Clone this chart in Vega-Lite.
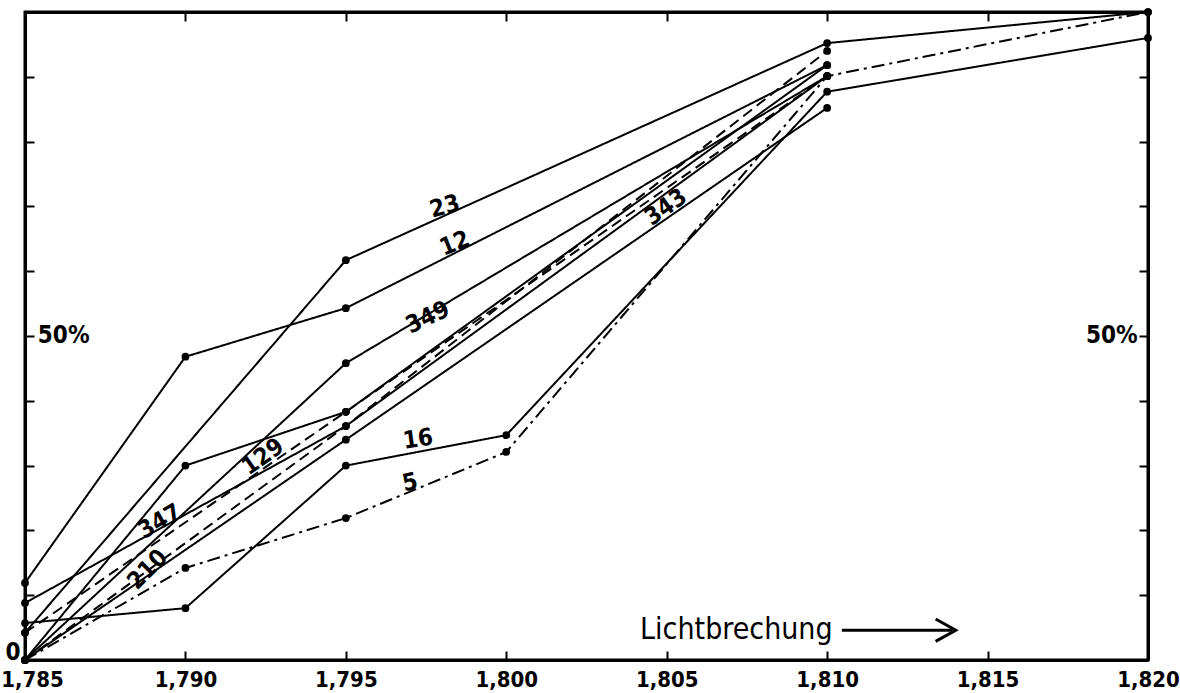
{
  "$schema": "https://vega.github.io/schema/vega-lite/v6.json",
  "width": 1123,
  "height": 648,
  "autosize": {"type": "none"},
  "padding": {"left": 25, "top": 12, "right": 32, "bottom": 33},
  "background": "white",
  "config": {
    "view": {"stroke": "black", "strokeWidth": 3},
    "font": "'DejaVu Sans Condensed', 'DejaVu Sans', sans-serif"
  },
  "datasets": {
    "pts": [
      {"s": "23", "style": "solid", "n": 1.785, "p": 4.2},
      {"s": "23", "style": "solid", "n": 1.795, "p": 61.7},
      {"s": "23", "style": "solid", "n": 1.810, "p": 95.2},
      {"s": "23", "style": "solid", "n": 1.820, "p": 100},
      {"s": "12", "style": "solid", "n": 1.785, "p": 11.9},
      {"s": "12", "style": "solid", "n": 1.790, "p": 46.8},
      {"s": "12", "style": "solid", "n": 1.795, "p": 54.3},
      {"s": "12", "style": "solid", "n": 1.810, "p": 91.8},
      {"s": "349", "style": "solid", "n": 1.785, "p": 0},
      {"s": "349", "style": "solid", "n": 1.795, "p": 45.8},
      {"s": "349", "style": "solid", "n": 1.810, "p": 90.1},
      {"s": "9", "style": "solid", "n": 1.785, "p": 0},
      {"s": "9", "style": "solid", "n": 1.790, "p": 30.0},
      {"s": "9", "style": "solid", "n": 1.795, "p": 38.3},
      {"s": "9", "style": "solid", "n": 1.810, "p": 91.8},
      {"s": "347", "style": "solid", "n": 1.785, "p": 8.8},
      {"s": "347", "style": "solid", "n": 1.795, "p": 36.1},
      {"s": "347", "style": "solid", "n": 1.810, "p": 90.1},
      {"s": "210", "style": "dashed", "n": 1.785, "p": 0},
      {"s": "210", "style": "dashed", "n": 1.795, "p": 36.1},
      {"s": "210", "style": "dashed", "n": 1.810, "p": 94.0},
      {"s": "129", "style": "dashed", "n": 1.785, "p": 4.2},
      {"s": "129", "style": "dashed", "n": 1.795, "p": 38.3},
      {"s": "129", "style": "dashed", "n": 1.810, "p": 90.1},
      {"s": "343", "style": "solid", "n": 1.785, "p": 0},
      {"s": "343", "style": "solid", "n": 1.795, "p": 34.0},
      {"s": "343", "style": "solid", "n": 1.810, "p": 85.2},
      {"s": "16", "style": "solid", "n": 1.785, "p": 5.7},
      {"s": "16", "style": "solid", "n": 1.790, "p": 8.0},
      {"s": "16", "style": "solid", "n": 1.795, "p": 30.0},
      {"s": "16", "style": "solid", "n": 1.800, "p": 34.7},
      {"s": "16", "style": "solid", "n": 1.810, "p": 87.7},
      {"s": "16", "style": "solid", "n": 1.820, "p": 96.0},
      {"s": "5", "style": "dashdot", "n": 1.785, "p": 0},
      {"s": "5", "style": "dashdot", "n": 1.790, "p": 14.2},
      {"s": "5", "style": "dashdot", "n": 1.795, "p": 21.9},
      {"s": "5", "style": "dashdot", "n": 1.800, "p": 32.1},
      {"s": "5", "style": "dashdot", "n": 1.810, "p": 90.1},
      {"s": "5", "style": "dashdot", "n": 1.820, "p": 100}
    ],
    "labels": [
      {"t": "23", "n": 1.79809, "p": 69.9, "a": -15},
      {"t": "12", "n": 1.7984, "p": 64.2, "a": -22},
      {"t": "349", "n": 1.79756, "p": 52.8, "a": -25},
      {"t": "9", "n": 1.78179, "p": 34.9, "a": -8},
      {"t": "129", "n": 1.79242, "p": 31.3, "a": -35},
      {"t": "347", "n": 1.78921, "p": 21.3, "a": -30},
      {"t": "210", "n": 1.78883, "p": 13.9, "a": -45},
      {"t": "16", "n": 1.79725, "p": 34.0, "a": -8},
      {"t": "5", "n": 1.797, "p": 27.3, "a": -12},
      {"t": "343", "n": 1.80498, "p": 69.8, "a": -35}
    ],
    "pctL": [
      {"t": "50%", "n": 1.7854, "p": 50}
    ],
    "pctR": [
      {"t": "50%", "n": 1.81968, "p": 50}
    ],
    "title": [
      {"t": "Lichtbrechung", "n": 1.80417, "p": 4.6}
    ],
    "arrow": [
      {"n0": 1.81046, "n1": 1.81390, "p": 4.6, "nh": 1.81366}
    ]
  },
  "resolve": {"axis": {"x": "independent", "y": "independent"}},
  "layer": [
    {
      "data": {"name": "pts"},
      "mark": {"type": "line", "color": "black", "strokeWidth": 2},
      "encoding": {
        "x": {
          "field": "n", "type": "quantitative",
          "scale": {"domain": [1.785, 1.82], "nice": false, "zero": false},
          "axis": {
            "orient": "bottom", "title": null, "grid": false,
            "values": [1.785, 1.79, 1.795, 1.8, 1.805, 1.81, 1.815, 1.82],
            "labelExpr": "replace(format(datum.value, '.3f'), '.', ',')",
            "tickSize": -9, "tickWidth": 2, "tickColor": "black",
            "domainColor": "black", "domainWidth": 3,
            "labelFontSize": 22, "labelFontWeight": "bold", "labelColor": "black",
            "labelPadding": 18, "labelFlush": false, "labelOverlap": false,
            "labelOffset": {"condition": {"test": "datum.value < 1.786", "value": 7}, "value": 0}
          }
        },
        "y": {
          "field": "p", "type": "quantitative",
          "scale": {"domain": [0, 100], "nice": false},
          "axis": {
            "orient": "left", "title": null, "grid": false,
            "values": [0, 10, 20, 30, 40, 50, 60, 70, 80, 90],
            "labelExpr": "datum.value == 0 ? '0' : ''",
            "tickSize": -9, "tickWidth": 2, "tickColor": "black",
            "domainColor": "black", "domainWidth": 3,
            "labelFontSize": 24, "labelFontWeight": "bold", "labelColor": "black",
            "labelPadding": 14, "labelBaseline": "alphabetic", "labelOffset": -1
          }
        },
        "detail": {"field": "s"},
        "strokeDash": {
          "field": "style", "type": "nominal",
          "scale": {"domain": ["solid", "dashed", "dashdot"], "range": [[1, 0], [11, 6], [13, 5, 3, 5]]},
          "legend": null
        }
      }
    },
    {
      "data": {"name": "pts"},
      "mark": {"type": "point", "filled": true, "color": "black", "size": 60, "opacity": 1},
      "encoding": {
        "x": {
          "field": "n", "type": "quantitative",
          "axis": {
            "orient": "top", "title": null, "grid": false, "labels": false,
            "values": [1.79, 1.795, 1.8, 1.805, 1.81, 1.815],
            "tickSize": -9, "tickWidth": 2, "tickColor": "black",
            "domainColor": "black", "domainWidth": 3
          }
        },
        "y": {
          "field": "p", "type": "quantitative",
          "axis": {
            "orient": "right", "title": null, "grid": false, "labels": false,
            "values": [10, 20, 30, 40, 50, 60, 70, 80, 90],
            "tickSize": -9, "tickWidth": 2, "tickColor": "black",
            "domainColor": "black", "domainWidth": 3
          }
        }
      }
    },
    {
      "data": {"name": "labels"},
      "mark": {"type": "text", "fontSize": 24, "fontWeight": "bold", "color": "black", "align": "center", "baseline": "middle"},
      "encoding": {
        "x": {"field": "n", "type": "quantitative", "axis": null},
        "y": {"field": "p", "type": "quantitative", "axis": null},
        "text": {"field": "t"},
        "angle": {"field": "a", "type": "quantitative", "scale": null}
      }
    },
    {
      "data": {"name": "pctL"},
      "mark": {"type": "text", "fontSize": 24, "fontWeight": "bold", "color": "black", "baseline": "middle", "align": "left"},
      "encoding": {
        "x": {"field": "n", "type": "quantitative", "axis": null},
        "y": {"field": "p", "type": "quantitative", "axis": null},
        "text": {"field": "t"}
      }
    },
    {
      "data": {"name": "pctR"},
      "mark": {"type": "text", "fontSize": 24, "fontWeight": "bold", "color": "black", "baseline": "middle", "align": "right"},
      "encoding": {
        "x": {"field": "n", "type": "quantitative", "axis": null},
        "y": {"field": "p", "type": "quantitative", "axis": null},
        "text": {"field": "t"}
      }
    },
    {
      "data": {"name": "title"},
      "mark": {"type": "text", "fontSize": 30, "color": "black", "align": "left", "baseline": "middle"},
      "encoding": {
        "x": {"field": "n", "type": "quantitative", "axis": null},
        "y": {"field": "p", "type": "quantitative", "axis": null},
        "text": {"field": "t"}
      }
    },
    {
      "data": {"name": "arrow"},
      "mark": {"type": "rule", "color": "black", "strokeWidth": 3},
      "encoding": {
        "x": {"field": "n0", "type": "quantitative", "axis": null},
        "x2": {"field": "n1"},
        "y": {"field": "p", "type": "quantitative", "axis": null}
      }
    },
    {
      "data": {"name": "arrow"},
      "mark": {"type": "point", "shape": "M-0.8,-1L1,0L-0.8,1", "filled": false, "color": "black", "strokeWidth": 3, "size": 500, "opacity": 1},
      "encoding": {
        "x": {"field": "nh", "type": "quantitative", "axis": null},
        "y": {"field": "p", "type": "quantitative", "axis": null}
      }
    }
  ]
}
